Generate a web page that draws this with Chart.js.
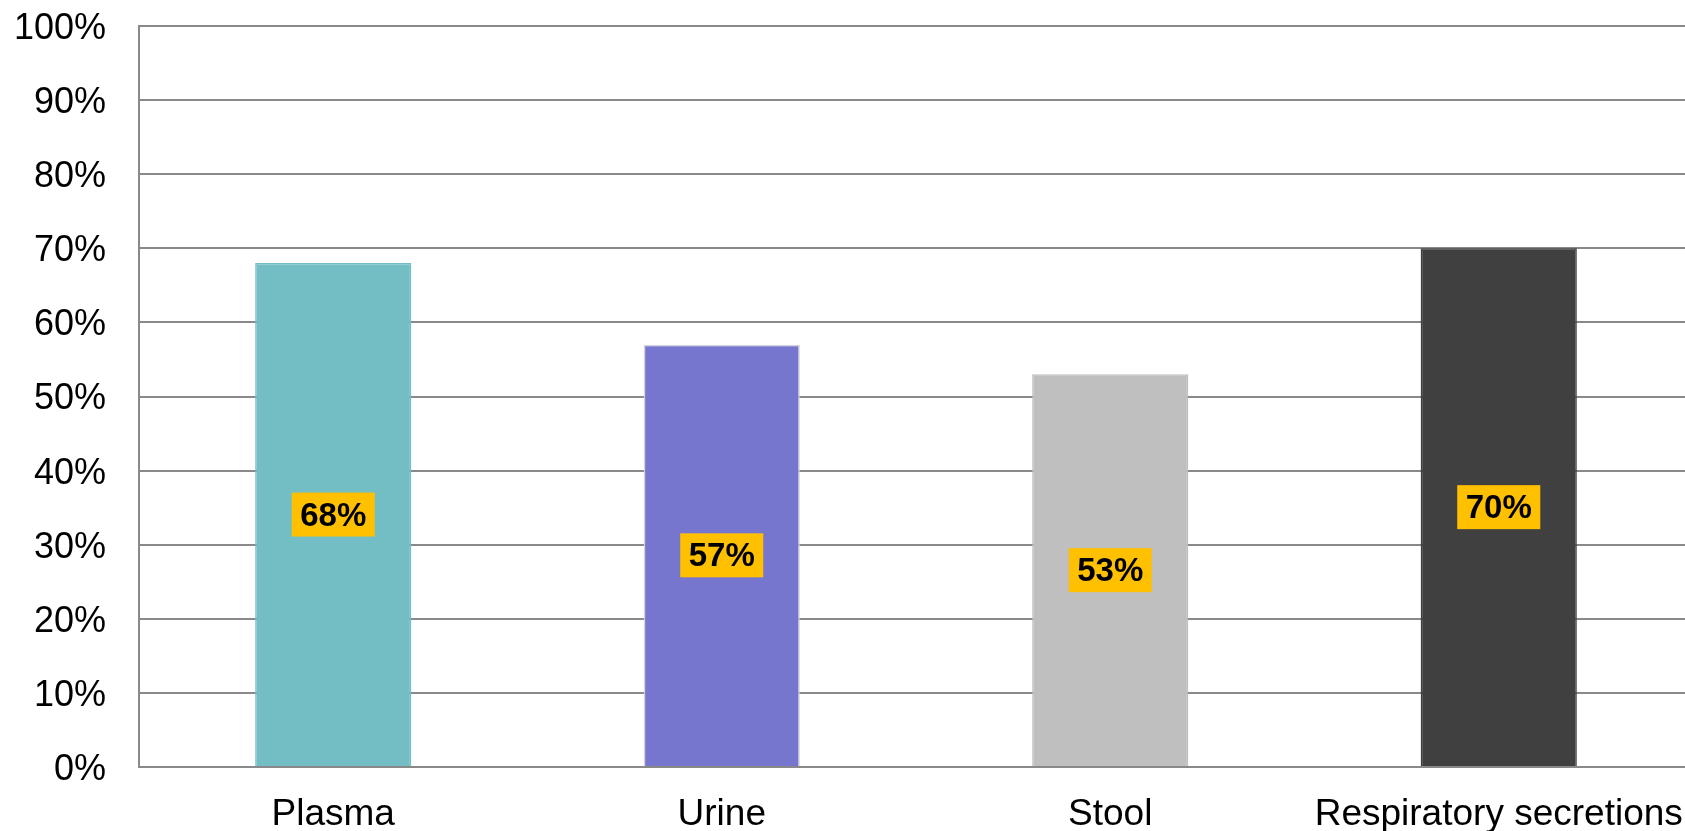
<!DOCTYPE html>
<html>
<head>
<meta charset="utf-8">
<script src="https://cdn.jsdelivr.net/npm/chart.js@4"></script>
<style>
  html, body { margin: 0; padding: 0; background: #fff; overflow: hidden; }
  #wrap { width: 1693px; height: 831px; }
</style>
</head>
<body>
<div id="wrap"><canvas id="chart"></canvas></div>
<script>
const categories = ['Plasma', 'Urine', 'Stool', 'Respiratory secretions'];
const values = [68, 57, 53, 70];
const barColors = ['#73bec4', '#7676cf', '#bfbfbf', '#404040'];
const borderColors = ['#73bec4', '#d2d2dc', '#bfbfbf', '#404040'];

const FONT = '"Liberation Sans", Arial, sans-serif';

// yellow value boxes in the middle of each bar
const valueBoxes = {
  id: 'valueBoxes',
  afterDatasetsDraw(chart) {
    const ctx = chart.ctx;
    const meta = chart.getDatasetMeta(0);
    ctx.save();
    ctx.font = 'bold 33px ' + FONT;
    ctx.textAlign = 'center';
    ctx.textBaseline = 'middle';
    meta.data.forEach((bar, i) => {
      const txt = values[i] + '%';
      const w = ctx.measureText(txt).width + 17;
      const h = 44;
      const cy = (bar.y + bar.base) / 2;
      ctx.fillStyle = '#ffc000';
      ctx.fillRect(bar.x - w / 2, cy - h / 2, w, h);
      ctx.fillStyle = '#000';
      ctx.fillText(txt, bar.x, cy + 2);
    });
    ctx.restore();
  }
};

new Chart(document.getElementById('chart'), {
  type: 'bar',
  data: {
    labels: categories,
    datasets: [{
      data: values,
      backgroundColor: barColors,
      borderColor: borderColors,
      borderWidth: 1.5,
      barPercentage: 0.402,
      categoryPercentage: 1
    }]
  },
  options: {
    responsive: true,
    maintainAspectRatio: false,
    animation: false,
    layout: { padding: { top: 26, right: 0, left: 0, bottom: 0 } },
    plugins: {
      legend: { display: false },
      tooltip: { enabled: false }
    },
    scales: {
      x: {
        grid: { display: false, drawTicks: false },
        border: { display: true, color: '#898989', width: 2 },
        ticks: {
          color: '#000',
          font: { family: FONT, size: 37 },
          padding: 26,
          maxRotation: 0,
          autoSkip: false
        },
        afterFit(scale) { scale.height = 64; scale.paddingLeft = 0; scale.paddingRight = 0; }
      },
      y: {
        min: 0,
        max: 100,
        grid: { color: '#898989', lineWidth: 2, drawTicks: false },
        border: { display: true, color: '#898989', width: 2 },
        ticks: {
          stepSize: 10,
          color: '#000',
          font: { family: FONT, size: 36 },
          padding: 33,
          labelOffset: 3,
          callback: v => v + '%'
        },
        afterFit(scale) { scale.width = 139; scale.paddingTop = 0; scale.paddingBottom = 0; }
      }
    }
  },
  plugins: [valueBoxes]
});
</script>
</body>
</html>
